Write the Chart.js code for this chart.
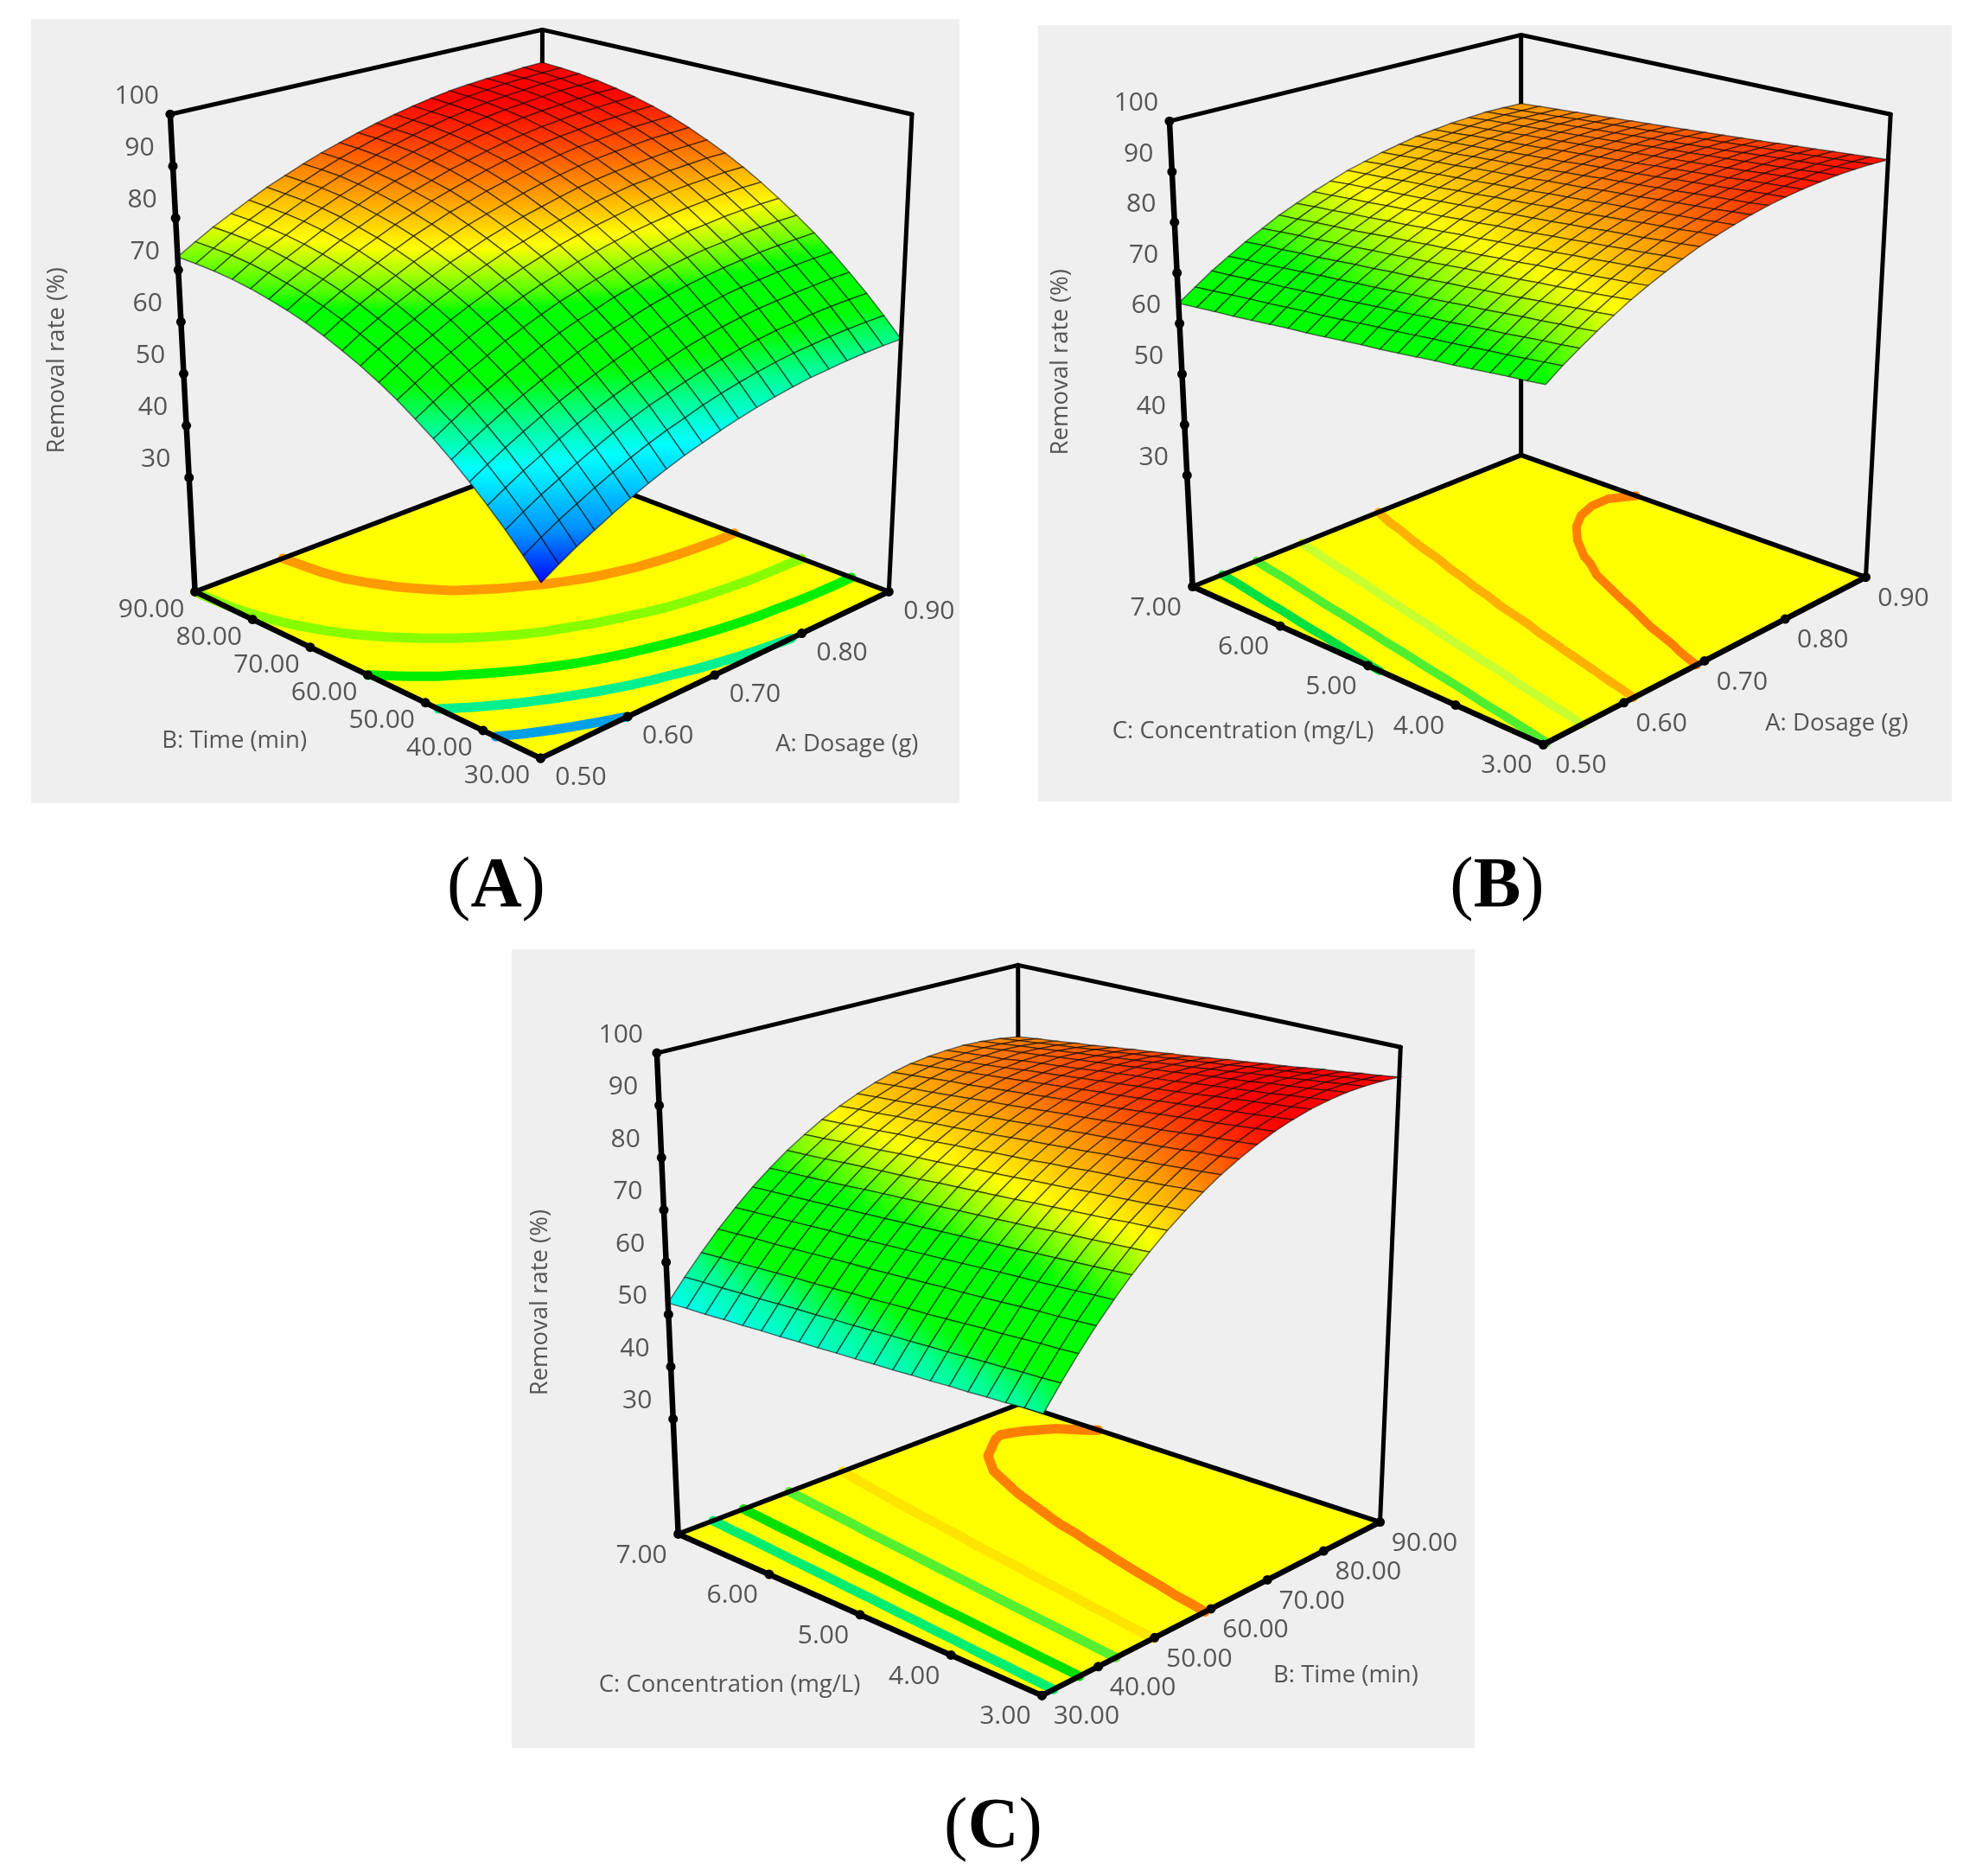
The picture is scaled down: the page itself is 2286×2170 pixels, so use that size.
<!DOCTYPE html>
<html>
<head>
<meta charset="utf-8">
<title>Removal rate response surfaces</title>
<script src="https://cdn.jsdelivr.net/npm/chart.js@4"></script>
<style>
  html, body { margin: 0; background: #fff; }
  #page { position: relative; width: 2286px; height: 2170px; overflow: hidden; }
  canvas { position: absolute; background: #efefef; filter: blur(0.7px); }
  .cap { position: absolute; transform: translateX(-50%); font: 82px "Liberation Serif", serif; color: #000; line-height: 1; }
</style>
</head>
<body>
<div id="page">
  <canvas id="chartA" width="1074" height="907" style="left:36px;top:22px"></canvas>
  <canvas id="chartB" width="1057" height="898" style="left:1201px;top:29px"></canvas>
  <canvas id="chartC" width="1114" height="924" style="left:592px;top:1098px"></canvas>
  <div class="cap" style="left:574px;top:980px">(<b>A</b>)</div>
  <div class="cap" style="left:1732px;top:980px">(<b>B</b>)</div>
  <div class="cap" style="left:1149px;top:2068px">(<b>C</b>)</div>
</div>
<script>
// tick labels
const zTicks = [30, 40, 50, 60, 70, 80, 90, 100];
const dosageTicks = [0.5, 0.6, 0.7, 0.8, 0.9];
const timeTicks = [30, 40, 50, 60, 70, 80, 90];
const concTicks = [3, 4, 5, 6, 7];

// surface heights, rows go along the left floor edge, columns along the right one
const removalA = [
  [38,39.9,41.7,43.3,44.9,46.4,47.8,49.1,50.3,51.3,52.3,53.2,54,54.7,55.3,55.8,56.1,56.4,56.6,56.7,56.7],
  [41.4,43.3,45.1,46.7,48.3,49.8,51.2,52.5,53.7,54.7,55.8,56.7,57.5,58.2,58.8,59.3,59.6,59.9,60.1,60.2,60.2],
  [44.6,46.5,48.3,49.9,51.5,53,54.5,55.8,57,58,59,59.9,60.7,61.4,62,62.5,62.8,63.2,63.4,63.5,63.5],
  [47.6,49.5,51.3,52.9,54.6,56.1,57.5,58.8,60,61,62,63,63.8,64.5,65.1,65.6,65.9,66.2,66.4,66.6,66.6],
  [50.5,52.4,54.2,55.9,57.5,59,60.4,61.7,62.9,64,65,65.9,66.7,67.4,68.1,68.6,68.9,69.2,69.4,69.5,69.6],
  [53.2,55.1,56.9,58.6,60.2,61.7,63.1,64.5,65.7,66.7,67.7,68.7,69.5,70.2,70.8,71.3,71.7,72,72.2,72.3,72.4],
  [55.7,57.6,59.5,61.1,62.7,64.2,65.7,67,68.2,69.2,70.3,71.2,72,72.8,73.4,73.9,74.2,74.6,74.8,74.9,74.9],
  [58,59.9,61.8,63.4,65,66.6,68,69.3,70.6,71.6,72.6,73.5,74.4,75.1,75.7,76.3,76.6,77,77.2,77.3,77.3],
  [60.2,62.1,64,65.6,67.2,68.8,70.2,71.6,72.8,73.8,74.9,75.8,76.6,77.4,78,78.5,78.9,79.2,79.5,79.6,79.6],
  [62.2,64.1,66,67.6,69.3,70.8,72.2,73.6,74.8,75.9,77,77.9,78.7,79.4,80.1,80.6,81,81.3,81.5,81.7,81.7],
  [64,66,67.8,69.4,71.1,72.6,74.1,75.4,76.7,77.7,78.8,79.7,80.5,81.3,81.9,82.5,82.8,83.2,83.4,83.6,83.6],
  [65.6,67.6,69.4,71.1,72.7,74.2,75.7,77,78.3,79.4,80.4,81.3,82.2,83,83.6,84.1,84.5,84.8,85.1,85.2,85.3],
  [67.1,69.1,70.9,72.6,74.2,75.8,77.2,78.6,79.8,80.9,81.9,82.9,83.8,84.5,85.2,85.7,86.1,86.4,86.7,86.8,86.9],
  [68.4,70.4,72.2,73.9,75.5,77.1,78.6,79.9,81.2,82.2,83.3,84.2,85.1,85.9,86.5,87.1,87.4,87.8,88.1,88.2,88.3],
  [69.5,71.5,73.3,75,76.7,78.2,79.7,81,82.3,83.4,84.4,85.4,86.3,87,87.7,88.2,88.6,89,89.2,89.4,89.5],
  [70.4,72.4,74.2,75.9,77.6,79.1,80.6,82,83.2,84.3,85.4,86.3,87.2,88,88.6,89.2,89.6,90,90.2,90.4,90.5],
  [71.2,73.2,75,76.7,78.4,80,81.4,82.8,84.1,85.1,86.2,87.2,88.1,88.9,89.5,90.1,90.5,90.8,91.1,91.3,91.3],
  [71.8,73.8,75.7,77.3,79,80.6,82.1,83.4,84.7,85.8,86.9,87.8,88.7,89.5,90.2,90.7,91.1,91.5,91.8,91.9,92],
  [72.2,74.2,76.1,77.7,79.4,81,82.5,83.9,85.1,86.2,87.3,88.3,89.2,90,90.6,91.2,91.6,91.9,92.3,92.4,92.5],
  [72.4,74.4,76.3,78,79.6,81.2,82.7,84.1,85.4,86.5,87.6,88.5,89.4,90.2,90.9,91.5,91.9,92.3,92.5,92.7,92.8],
  [72.5,74.5,76.4,78.1,79.8,81.4,82.8,84.2,85.5,86.6,87.7,88.7,89.6,90.4,91.1,91.7,92.1,92.4,92.6,92.9,93]
];
const removalB = [
  [71.5,73.7,75.7,77.6,79.4,81.1,82.6,84,85.3,86.5,87.5,88.4,89.2,89.9,90.4,90.8,91.1,91.3,91.3,91.2,91],
  [71.1,73.3,75.3,77.2,79,80.7,82.2,83.7,85,86.1,87.2,88.1,88.9,89.5,90.1,90.5,90.8,91,91,90.9,90.7],
  [70.8,72.9,75,76.9,78.7,80.3,81.9,83.3,84.6,85.8,86.8,87.7,88.5,89.2,89.8,90.2,90.5,90.6,90.7,90.6,90.4],
  [70.4,72.5,74.6,76.5,78.3,80,81.5,83,84.3,85.4,86.5,87.4,88.2,88.9,89.4,89.9,90.2,90.3,90.4,90.3,90.1],
  [70,72.2,74.2,76.2,78,79.6,81.2,82.6,83.9,85.1,86.2,87.1,87.9,88.6,89.1,89.5,89.8,90,90.1,90,89.8],
  [69.6,71.8,73.9,75.8,77.6,79.3,80.8,82.3,83.6,84.8,85.8,86.7,87.6,88.2,88.8,89.2,89.5,89.7,89.8,89.7,89.5],
  [69.3,71.4,73.5,75.4,77.2,78.9,80.5,81.9,83.2,84.4,85.5,86.4,87.2,87.9,88.5,88.9,89.2,89.4,89.5,89.4,89.2],
  [68.9,71.1,73.1,75.1,76.9,78.6,80.1,81.6,82.9,84.1,85.1,86.1,86.9,87.6,88.1,88.6,88.9,89.1,89.1,89.1,88.9],
  [68.5,70.7,72.8,74.7,76.5,78.2,79.8,81.2,82.5,83.7,84.8,85.7,86.6,87.3,87.8,88.3,88.6,88.8,88.8,88.8,88.6],
  [68.1,70.3,72.4,74.3,76.2,77.9,79.4,80.9,82.2,83.4,84.5,85.4,86.2,87,87.5,87.9,88.3,88.5,88.5,88.5,88.3],
  [67.8,70,72,74,75.8,77.5,79.1,80.5,81.9,83.1,84.1,85.1,85.9,86.6,87.2,87.6,88,88.2,88.2,88.2,88],
  [67.4,69.6,71.7,73.6,75.4,77.1,78.7,80.2,81.5,82.7,83.8,84.7,85.6,86.3,86.9,87.3,87.6,87.8,87.9,87.9,87.7],
  [67,69.2,71.3,73.2,75.1,76.8,78.4,79.8,81.2,82.4,83.5,84.4,85.2,85.9,86.5,87,87.3,87.5,87.6,87.6,87.4],
  [66.6,68.8,70.9,72.9,74.7,76.4,78,79.5,80.8,82,83.1,84.1,84.9,85.6,86.2,86.7,87,87.2,87.3,87.3,87.1],
  [66.3,68.5,70.6,72.5,74.4,76.1,77.7,79.1,80.5,81.7,82.8,83.7,84.6,85.3,85.9,86.3,86.7,86.9,87,87,86.8],
  [65.9,68.1,70.2,72.2,74,75.7,77.3,78.8,80.1,81.3,82.4,83.4,84.3,85,85.6,86,86.4,86.6,86.7,86.7,86.5],
  [65.5,67.7,69.8,71.8,73.6,75.4,76.9,78.4,79.8,81,82.1,83.1,83.9,84.7,85.2,85.7,86.1,86.3,86.4,86.4,86.2],
  [65.1,67.4,69.5,71.4,73.3,75,76.6,78.1,79.4,80.7,81.8,82.7,83.6,84.3,84.9,85.4,85.7,86,86.1,86,85.9],
  [64.8,67,69.1,71,72.9,74.7,76.3,77.7,79.1,80.3,81.4,82.4,83.3,84,84.6,85.1,85.4,85.7,85.8,85.7,85.6],
  [64.4,66.6,68.7,70.7,72.6,74.3,75.9,77.4,78.7,80,81.1,82.1,82.9,83.7,84.3,84.7,85.1,85.4,85.5,85.4,85.3],
  [64,66.2,68.4,70.3,72.2,73.9,75.6,77,78.4,79.6,80.8,81.7,82.6,83.3,84,84.4,84.8,85,85.2,85.1,85]
];
const removalC = [
  [57.2,61.3,65.2,68.9,72.3,75.5,78.4,81.1,83.5,85.7,87.7,89.4,90.9,92.2,93.2,94,94.5,94.8,94.8,94.6,94.2],
  [57,61,64.9,68.6,72,75.2,78.1,80.8,83.2,85.4,87.3,89,90.5,91.8,92.8,93.6,94.1,94.4,94.4,94.1,93.7],
  [56.7,60.8,64.7,68.3,71.7,74.9,77.8,80.5,82.8,85,87,88.7,90.2,91.4,92.4,93.2,93.7,93.9,93.9,93.7,93.3],
  [56.5,60.5,64.4,68.1,71.4,74.6,77.5,80.1,82.5,84.7,86.6,88.3,89.8,91,92,92.8,93.2,93.5,93.5,93.2,92.8],
  [56.2,60.3,64.1,67.8,71.1,74.3,77.2,79.8,82.2,84.3,86.3,87.9,89.4,90.7,91.6,92.4,92.8,93.1,93,92.8,92.4],
  [56,60,63.9,67.5,70.9,74,76.9,79.5,81.9,84,85.9,87.6,89,90.3,91.2,92,92.4,92.6,92.6,92.4,91.9],
  [55.7,59.7,63.6,67.2,70.6,73.7,76.5,79.2,81.5,83.7,85.6,87.2,88.7,89.9,90.8,91.5,92,92.2,92.2,91.9,91.4],
  [55.5,59.5,63.3,66.9,70.3,73.4,76.2,78.9,81.2,83.3,85.2,86.8,88.3,89.5,90.4,91.1,91.6,91.8,91.7,91.5,91],
  [55.2,59.2,63,66.7,70,73.1,75.9,78.5,80.9,83,84.9,86.5,87.9,89.1,90,90.7,91.1,91.4,91.3,91,90.5],
  [55,59,62.8,66.4,69.7,72.8,75.6,78.2,80.5,82.6,84.5,86.1,87.5,88.7,89.6,90.3,90.7,90.9,90.8,90.6,90.1],
  [54.7,58.7,62.5,66.1,69.4,72.5,75.3,77.9,80.2,82.3,84.2,85.8,87.2,88.4,89.3,89.9,90.3,90.5,90.4,90.1,89.6],
  [54.5,58.4,62.2,65.8,69.1,72.2,75,77.6,79.9,82,83.8,85.4,86.8,88,88.9,89.5,89.9,90.1,90,89.7,89.1],
  [54.2,58.2,62,65.5,68.8,71.9,74.7,77.3,79.5,81.6,83.4,85,86.4,87.6,88.5,89.1,89.5,89.6,89.5,89.2,88.7],
  [54,57.9,61.7,65.3,68.5,71.6,74.4,76.9,79.2,81.3,83.1,84.7,86,87.2,88.1,88.7,89,89.2,89.1,88.8,88.2],
  [53.7,57.7,61.4,65,68.2,71.3,74.1,76.6,78.9,80.9,82.7,84.3,85.7,86.8,87.7,88.3,88.6,88.8,88.6,88.3,87.8],
  [53.5,57.4,61.2,64.7,68,71,73.8,76.3,78.6,80.6,82.4,83.9,85.3,86.4,87.3,87.9,88.2,88.4,88.2,87.9,87.3],
  [53.2,57.1,60.9,64.4,67.7,70.7,73.4,76,78.2,80.3,82,83.6,84.9,86,86.9,87.4,87.8,87.9,87.8,87.4,86.8],
  [53,56.9,60.6,64.1,67.4,70.4,73.1,75.7,77.9,79.9,81.7,83.2,84.5,85.7,86.5,87,87.2,87.5,87.3,87,86.4],
  [52.7,56.6,60.3,63.9,67.1,70.1,72.8,75.3,77.6,79.6,81.3,82.8,84.2,85.3,86.1,86.6,86.9,87.1,86.9,86.5,85.9],
  [52.5,56.4,60.1,63.6,66.8,69.8,72.5,75,77.2,79.2,81,82.5,83.8,84.9,85.7,86.2,86.5,86.6,86.4,86.1,85.5],
  [52.2,56.1,59.8,63.3,66.5,69.5,72.2,74.7,76.9,78.9,80.6,82.1,83.4,84.5,85.3,85.8,86.1,86.2,86,85.6,85]
];

// contour levels on the floor
const levelsA = [46.4, 55.5, 64, 72.5, 81.5];
const levelColorsA = ['#00a0e8', '#00f090', '#00ee00', '#88ff00', '#ff9a00'];
const levelsB = [68, 72, 76.5, 82, 87];
const levelColorsB = ['#00e040', '#50ee30', '#c8ff30', '#ffb000', '#ff8000'];
const levelsC = [60, 66, 73.5, 80, 87];
const levelColorsC = ['#00ee70', '#00e000', '#55f030', '#ffe400', '#ff8000'];

// colour scale of the surface, the heights where each colour sits differ a little per panel
const scaleColors = [[0,0,255], [0,144,255], [0,255,255], [0,255,144], [0,255,0], [0,255,0], [70,255,0], [255,255,0], [255,153,0], [255,0,0]];
const scaleValuesA = [38, 44, 52, 57, 62, 70, 71.5, 77, 82.5, 91];
const scaleValuesB = [38, 44, 52, 58, 62, 72, 74, 80, 85.5, 92];
const scaleValuesC = [38, 44, 52, 58, 62, 72, 74, 79.5, 85.5, 92.5];

const Z_MIN = 8, Z_MAX = 100;
const TEXT_COLOR = '#555';
const FONT = '"Open Sans", "Noto Sans", sans-serif';

// floor and top corners run front, right, back, left (page pixels)
const panels = [
  {
    id: 'chartA', box: [36, 22, 1110, 929], table: removalA, scale: scaleValuesA, levels: levelsA, levelColors: levelColorsA, levelWidth: 11,
    floor: [[626,882],[1033,687],[627,533],[222,687]],
    top: [[627,252],[1060,128],[628,29],[193,128]],
    uTicks: dosageTicks, uRange: [0.5, 0.9], vTicks: timeTicks, vRange: [30, 90],
    uOffset: [47, 23], vOffset: [-51, 21], zOffset: [-39, -21],
    titles: [['Removal rate (%)', 61, 416, true], ['B: Time (min)', 268, 862], ['A: Dosage (g)', 984, 866]]
  },
  {
    id: 'chartB', box: [1201, 29, 2258, 927], table: removalB, scale: scaleValuesB, levels: levelsB, levelColors: levelColorsB, levelWidth: 10,
    floor: [[1786,866],[2163,670],[1760,527],[1376,681]],
    top: [[1790,255],[2192,128],[1760,35],[1349,136]],
    uTicks: dosageTicks, uRange: [0.5, 0.9], vTicks: concTicks, vRange: [3, 7],
    uOffset: [44, 25], vOffset: [-43, 25], zOffset: [-39, -21],
    titles: [['Removal rate (%)', 1222, 418, true], ['C: Concentration (mg/L)', 1435, 851], ['A: Dosage (g)', 2129, 842]]
  },
  {
    id: 'chartC', box: [592, 1098, 1706, 2022], table: removalC, scale: scaleValuesC, levels: levelsC, levelColors: levelColorsC, levelWidth: 11,
    floor: [[1206,1966],[1601,1763],[1179,1625],[781,1777]],
    top: [[1209,1349],[1625,1207],[1178,1111],[756,1214]],
    uTicks: timeTicks, uRange: [30, 90], vTicks: concTicks, vRange: [3, 7],
    uOffset: [52, 25], vOffset: [-43, 25], zOffset: [-42, -21],
    titles: [['Removal rate (%)', 620, 1506, true], ['C: Concentration (mg/L)', 841, 1954], ['B: Time (min)', 1561, 1943]]
  }
];

// unit square to quad, spaced evenly along the edges like the ticks are
function quadMap(q) {
  const [[x0,y0],[x1,y1],[x2,y2],[x3,y3]] = q;
  return (u, v) => [
    x0 * (1 - u) * (1 - v) + x1 * u * (1 - v) + x2 * u * v + x3 * (1 - u) * v,
    y0 * (1 - u) * (1 - v) + y1 * u * (1 - v) + y2 * u * v + y3 * (1 - u) * v
  ];
}

function colorAt(z, values) {
  const n = values.length;
  if (z <= values[0]) return scaleColors[0];
  if (z >= values[n - 1]) return scaleColors[n - 1];
  let i = 0;
  while (z > values[i + 1]) i++;
  const t = (z - values[i]) / (values[i + 1] - values[i]);
  return scaleColors[i].map((c, k) => Math.round(c + (scaleColors[i + 1][k] - c) * t));
}
const rgb = c => `rgb(${c[0]},${c[1]},${c[2]})`;

function buildPanel(p) {
  const canvas = document.getElementById(p.id);
  const c2d = canvas.getContext('2d');
  const mapFloor = quadMap(p.floor), mapTop = quadMap(p.top);
  const project = (u, v, z) => {
    const f = mapFloor(u, v), t = mapTop(u, v), w = (z - Z_MIN) / (Z_MAX - Z_MIN);
    return { x: f[0] + (t[0] - f[0]) * w, y: f[1] + (t[1] - f[1]) * w };
  };
  const n = p.table.length - 1;
  const layers = [];
  const line = (pts, color, width) => layers.push({
    data: pts, showLine: true, borderColor: color, borderWidth: width, pointRadius: 0, fill: false,
    borderCapStyle: 'round', borderJoinStyle: 'round'
  });

  // floor
  const corners = [[0,0],[1,0],[1,1],[0,1],[0,0]].map(c => project(c[0], c[1], Z_MIN));
  layers.push({ data: corners, showLine: true, borderWidth: 0, pointRadius: 0, fill: 'shape', backgroundColor: '#ffff00' });

  // contours on the floor, marching squares over the table
  p.levels.forEach((level, k) => {
    const pts = [];
    for (let j = 0; j < n; j++) {
      for (let i = 0; i < n; i++) {
        const c = [[i, j], [i + 1, j], [i + 1, j + 1], [i, j + 1]];
        const cross = [];
        for (let e = 0; e < 4; e++) {
          const a = c[e], b = c[(e + 1) % 4];
          const za = p.table[a[1]][a[0]], zb = p.table[b[1]][b[0]];
          if ((za < level) !== (zb < level)) {
            const t = (level - za) / (zb - za);
            cross.push(project((a[0] + (b[0] - a[0]) * t) / n, (a[1] + (b[1] - a[1]) * t) / n, Z_MIN));
          }
        }
        if (cross.length >= 2) pts.push(cross[0], cross[1], { x: NaN, y: NaN });
      }
    }
    line(pts, p.levelColors[k], p.levelWidth);
  });

  // floor edges, back vertical and top edges
  line([project(0,1,Z_MIN), project(1,1,Z_MIN), project(1,0,Z_MIN)], '#000', 5.5);
  line([project(0,1,Z_MIN), project(0,0,Z_MIN), project(1,0,Z_MIN)], '#000', 6.5);
  line([project(1,1,Z_MIN), project(1,1,Z_MAX)], '#000', 5);
  line([project(0,1,Z_MAX), project(1,1,Z_MAX), project(1,0,Z_MAX)], '#000', 5);

  // surface cells, back to front
  const cells = [];
  for (let j = 0; j < n; j++) for (let i = 0; i < n; i++) cells.push([i, j]);
  cells.sort((a, b) => (b[0] + b[1]) - (a[0] + a[1]));
  cells.forEach(([i, j]) => {
    const c = [[i, j], [i + 1, j], [i + 1, j + 1], [i, j + 1]].map(q => ({ z: p.table[q[1]][q[0]], pt: project(q[0] / n, q[1] / n, p.table[q[1]][q[0]]) }));
    const lo = c.reduce((m, q) => q.z < m.z ? q : m), hi = c.reduce((m, q) => q.z > m.z ? q : m);
    // scale runs 1:1 with the canvas, so page pixels less the box corner are canvas pixels
    const grad = c2d.createLinearGradient(lo.pt.x - p.box[0], lo.pt.y - p.box[1], hi.pt.x - p.box[0], hi.pt.y - p.box[1]);
    grad.addColorStop(0, rgb(colorAt(lo.z, p.scale)));
    if (hi.z > lo.z) p.scale.forEach((s, m) => {
      if (s > lo.z && s < hi.z) grad.addColorStop((s - lo.z) / (hi.z - lo.z), rgb(scaleColors[m]));
    });
    grad.addColorStop(1, rgb(colorAt(hi.z, p.scale)));
    layers.push({
      data: [c[0].pt, c[1].pt, c[2].pt, c[3].pt, c[0].pt],
      showLine: true, pointRadius: 0, fill: 'shape',
      borderColor: 'rgba(0,0,0,0.55)', borderWidth: 1.5,
      backgroundColor: grad
    });
  });

  // side verticals drawn over the surface edge
  line([project(0,1,Z_MIN), project(0,1,Z_MAX)], '#000', 6.5);
  line([project(1,0,Z_MIN), project(1,0,Z_MAX)], '#000', 5);

  // tick dots
  const u = t => (t - p.uRange[0]) / (p.uRange[1] - p.uRange[0]);
  const v = t => (t - p.vRange[0]) / (p.vRange[1] - p.vRange[0]);
  const uPts = p.uTicks.map(t => project(u(t), 0, Z_MIN));
  const vPts = p.vTicks.map(t => project(0, v(t), Z_MIN));
  const zPts = zTicks.map(t => project(0, 1, t));
  layers.push({ data: uPts.concat(vPts, zPts), showLine: false, pointRadius: 5.5, pointBorderWidth: 0, pointBackgroundColor: '#000' });

  const labels = chart => {
    const ctx = chart.ctx, sx = chart.scales.x, sy = chart.scales.y;
    const put = (txt, x, y, rot) => {
      ctx.save();
      ctx.translate(sx.getPixelForValue(x), sy.getPixelForValue(y));
      if (rot) ctx.rotate(-Math.PI / 2);
      ctx.fillText(txt, 0, 0);
      ctx.restore();
    };
    ctx.save();
    ctx.fillStyle = TEXT_COLOR;
    ctx.textAlign = 'center';
    ctx.textBaseline = 'middle';
    ctx.font = '30px ' + FONT;
    p.uTicks.forEach((t, i) => put(t.toFixed(2), uPts[i].x + p.uOffset[0], uPts[i].y + p.uOffset[1]));
    p.vTicks.forEach((t, i) => put(t.toFixed(2), vPts[i].x + p.vOffset[0], vPts[i].y + p.vOffset[1]));
    zTicks.forEach((t, i) => put(String(t), zPts[i].x + p.zOffset[0], zPts[i].y + p.zOffset[1]));
    ctx.font = '27.5px ' + FONT;
    p.titles.forEach(t => put(t[0], t[1], t[2], t[3]));
    ctx.restore();
  };

  new Chart(canvas, {
    type: 'scatter',
    // first dataset is drawn last
    data: { datasets: layers.reverse() },
    options: {
      responsive: false,
      animation: false,
      events: [],
      layout: { padding: 0 },
      plugins: { legend: { display: false }, tooltip: { enabled: false } },
      scales: {
        x: { type: 'linear', display: false, min: p.box[0], max: p.box[2] },
        y: { type: 'linear', display: false, min: p.box[1], max: p.box[3], reverse: true }
      }
    },
    plugins: [{ id: 'axisText', afterDatasetsDraw: labels }]
  });
}

panels.forEach(buildPanel);
</script>
</body>
</html>
